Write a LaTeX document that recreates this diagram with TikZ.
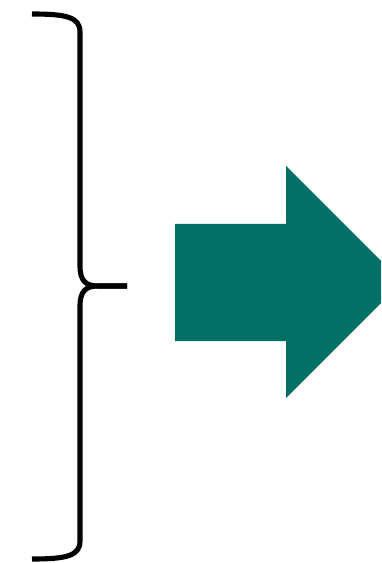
\documentclass[tikz,border=0pt]{standalone}
\usepackage{tikz}
\usetikzlibrary{calc}
\usepackage{xcolor}
\definecolor{vertfonce}{RGB}{0,112,103}

\begin{document}
\begin{tikzpicture}[x=0.02cm,y=-0.02cm,
				accolade/.style={line width=2.9pt,line join=round},
				fleche/.style={fill=vertfonce,draw=none}]
				\useasboundingbox (0,0) rectangle (381,563);
				\clip (0,0) rectangle (381,563);
				% accolade
				\coordinate (haut) at (32,14);
				\coordinate (pointe) at (127,286);
				\coordinate (bas) at (32,559);
				\draw[accolade] (haut) .. controls (66,14) and (80,17) .. (80,32)
					-- (80,266) .. controls (80,281) and (86,286) .. (98,286) -- (pointe);
				\draw[accolade] (bas) .. controls (66,559) and (80,556) .. (80,541)
					-- (80,306) .. controls (80,291) and (86,286) .. (98,286) -- (pointe);
				% fleche
				\fill[fleche] (175,224) -- (286,224) -- (286,166) -- (402,282)
					-- (286,398) -- (286,341) -- (175,341) -- cycle;
			\end{tikzpicture}
\end{document}
